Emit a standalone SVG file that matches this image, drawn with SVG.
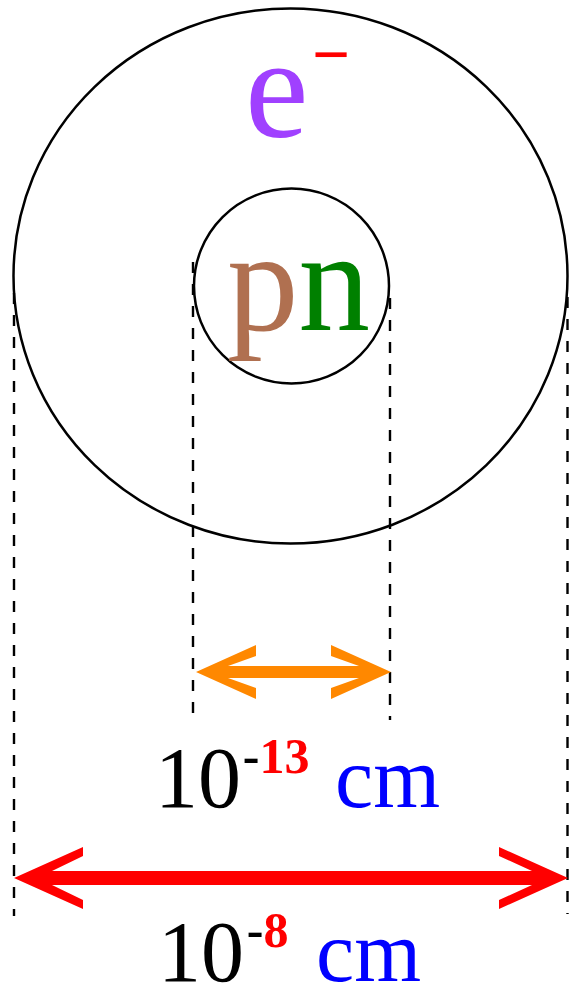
<svg xmlns="http://www.w3.org/2000/svg" width="569" height="985" viewBox="0 0 569 985">
<style>
.ring{fill:none;stroke:#000;stroke-width:2.5}
.dash{stroke:#000;stroke-width:2.4;stroke-dasharray:11 11;fill:none}
.serif{font-family:"Liberation Serif","Times New Roman",serif}
.sup{font-size:50px;font-weight:bold}
</style>
<rect width="569" height="985" fill="#fff"/>
<g id="atom">
<ellipse class="ring" cx="290.5" cy="276" rx="277" ry="267.5"/>
<text class="serif" x="245" y="137" font-size="143" fill="#A040FF">e</text>
<text class="serif" x="311.8" y="77" font-size="67" font-weight="bold" fill="#FF0000">−</text>
</g>
<g id="nucleus">
<circle class="ring" cx="291.5" cy="286" r="97.5"/>
<text class="serif" x="227" y="330" font-size="143"><tspan fill="#B07050">p</tspan><tspan fill="#008000">n</tspan></text>
</g>
<g id="connectors">
<line class="dash" x1="193" y1="262" x2="193" y2="720"/>
<line class="dash" x1="390" y1="298" x2="390" y2="720"/>
<line class="dash" x1="14" y1="293" x2="14" y2="916"/>
<line class="dash" x1="567.5" y1="297" x2="567.5" y2="914"/>
<polygon id="nucleus-arrow" fill="#FF8800" points="196,672 256,645 256,656 228,666 359,666 331,656 331,645 391,672 331,699 331,688 359,678 228,678 256,688 256,699"/>
<polygon id="atom-arrow" fill="#FF0000" points="14,878 83,847 83,856 52,871 532,871 499,856 499,847 568,878 499,909 499,900 532,885 52,885 83,900 83,909"/>
</g>
<g id="label-nucleus" class="serif">
<text y="807" font-size="86"><tspan x="155" fill="#000">10</tspan><tspan class="sup" x="242.8" y="773" fill="#000">-</tspan><tspan class="sup" fill="#FF0000">13</tspan><tspan x="335" y="807" fill="#0000FF">cm</tspan></text>
</g>
<g id="label-atom" class="serif">
<text y="981" font-size="86"><tspan x="158" fill="#000">10</tspan><tspan class="sup" x="246.8" y="947" fill="#000">-</tspan><tspan class="sup" fill="#FF0000">8</tspan><tspan x="316" y="981" fill="#0000FF">cm</tspan></text>
</g>
</svg>
